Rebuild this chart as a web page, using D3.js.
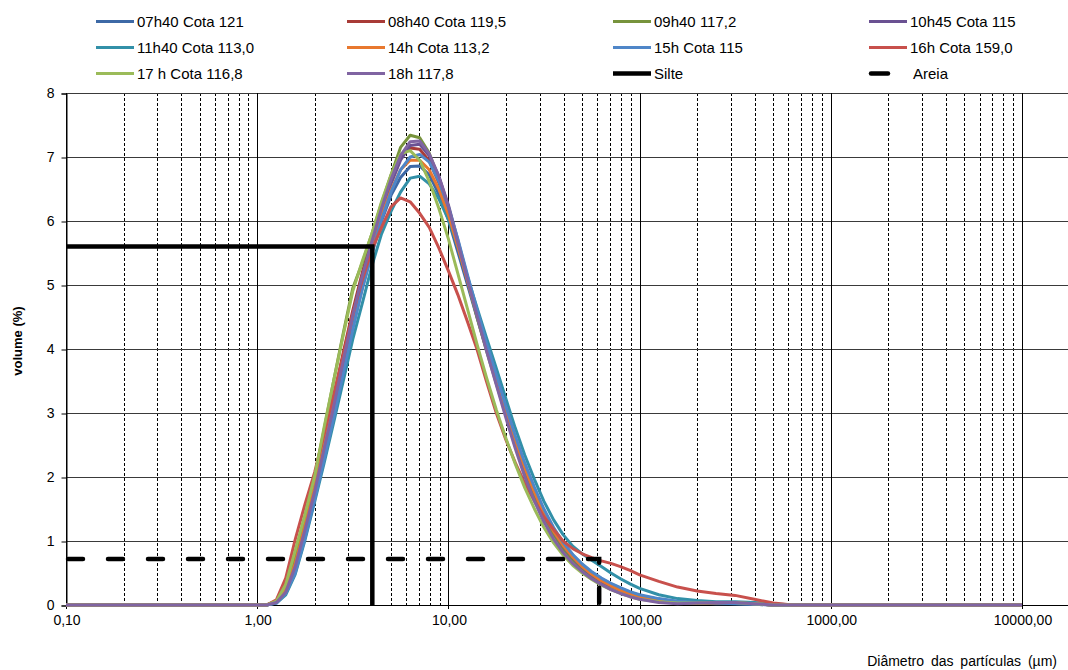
<!DOCTYPE html>
<html>
<head>
<meta charset="utf-8">
<script src="https://cdn.jsdelivr.net/npm/d3@7"></script>
<style>
  html, body { margin: 0; padding: 0; background: #fff; }
  svg { display: block; font-family: "Liberation Sans", Arial, sans-serif; }
</style>
</head>
<body>
<svg id="chart" width="1068" height="670"></svg>
<script>
// ---- DATA ----
const sizes = [0.1, 1.0, 1.12, 1.26, 1.41, 1.58, 1.78, 2.0, 2.24, 2.51, 2.82, 3.16, 3.55, 3.98, 4.47, 5.01, 5.62, 6.31, 7.08, 7.94, 8.91, 10, 11.2, 12.6, 14.1, 15.8, 17.8, 20, 22.4, 25.1, 28.2, 31.6, 35.5, 39.8, 44.7, 50.1, 56.2, 63.1, 70.8, 79.4, 89.1, 100, 126, 158, 200, 251, 316, 398, 501, 631, 1000, 10000];

const s0740 = [0,0,0,0.04,0.2,0.55,1.12,1.72,2.35,3.0,3.7,4.35,4.95,5.5,6.0,6.4,6.68,6.85,6.86,6.72,6.42,6.02,5.52,5.0,4.5,4.0,3.52,3.03,2.58,2.17,1.8,1.47,1.19,0.96,0.78,0.63,0.51,0.41,0.33,0.26,0.2,0.15,0.09,0.05,0.03,0.02,0.02,0.01,0,0,0,0];
const s0840 = [0,0,0,0.06,0.3,0.75,1.35,1.95,2.6,3.25,3.95,4.6,5.2,5.72,6.25,6.7,7.0,7.14,7.12,6.94,6.6,6.18,5.64,5.08,4.55,4.03,3.52,3.02,2.56,2.14,1.77,1.44,1.16,0.94,0.76,0.61,0.49,0.39,0.31,0.24,0.18,0.13,0.08,0.05,0.03,0.03,0.03,0.02,0,0,0,0];
const s0940 = [0,0,0,0.05,0.28,0.78,1.38,2.0,2.75,3.5,4.25,4.95,5.35,5.8,6.28,6.72,7.15,7.34,7.3,7.06,6.66,6.18,5.62,5.06,4.5,3.98,3.46,2.96,2.5,2.08,1.7,1.38,1.1,0.88,0.7,0.55,0.43,0.33,0.25,0.19,0.14,0.1,0.05,0.03,0.03,0.04,0.04,0.02,0,0,0,0];
const s1045 = [0,0,0,0.04,0.22,0.62,1.2,1.8,2.45,3.1,3.8,4.5,5.1,5.62,6.12,6.58,6.95,7.18,7.2,7.02,6.7,6.25,5.7,5.12,4.58,4.05,3.52,3.02,2.56,2.14,1.76,1.43,1.15,0.92,0.74,0.59,0.47,0.37,0.29,0.22,0.16,0.11,0.06,0.03,0.03,0.04,0.04,0.02,0,0,0,0];
const s1140 = [0,0,0,0.03,0.16,0.48,1.02,1.62,2.22,2.85,3.5,4.15,4.72,5.3,5.8,6.15,6.45,6.67,6.7,6.58,6.35,6.02,5.6,5.12,4.65,4.18,3.7,3.22,2.76,2.34,1.96,1.62,1.33,1.1,0.92,0.8,0.7,0.6,0.5,0.41,0.33,0.26,0.16,0.1,0.07,0.05,0.05,0.04,0.02,0,0,0];
const s1400 = [0,0,0,0.05,0.25,0.65,1.25,1.85,2.5,3.15,3.85,4.5,5.1,5.6,6.08,6.48,6.8,6.95,6.95,6.8,6.5,6.1,5.6,5.06,4.54,4.03,3.52,3.02,2.56,2.14,1.76,1.43,1.15,0.93,0.75,0.6,0.48,0.38,0.3,0.23,0.17,0.12,0.07,0.04,0.03,0.03,0.03,0.02,0,0,0,0];
const s1500 = [0,0,0,0.03,0.18,0.5,1.05,1.65,2.28,2.92,3.62,4.3,4.95,5.5,6.02,6.45,6.8,7.0,7.04,6.92,6.62,6.22,5.72,5.15,4.62,4.1,3.6,3.1,2.64,2.22,1.84,1.5,1.21,0.98,0.79,0.64,0.52,0.42,0.34,0.27,0.21,0.16,0.1,0.06,0.04,0.03,0.02,0.01,0,0,0,0];
const s1600 = [0,0,0,0.08,0.42,1.02,1.58,2.08,2.68,3.28,3.9,4.55,5.08,5.55,5.9,6.22,6.36,6.3,6.12,5.9,5.58,5.22,4.85,4.42,4.0,3.5,3.0,2.58,2.22,1.9,1.62,1.38,1.18,1.0,0.88,0.8,0.74,0.69,0.65,0.6,0.54,0.47,0.37,0.28,0.22,0.18,0.15,0.09,0.03,0,0,0];
const s1700 = [0,0,0,0.06,0.32,0.85,1.42,2.02,2.78,3.5,4.22,4.9,5.38,5.8,6.3,6.72,7.05,7.1,6.95,6.62,6.2,5.72,5.18,4.62,4.08,3.56,3.05,2.6,2.2,1.83,1.5,1.21,0.97,0.78,0.62,0.5,0.4,0.31,0.24,0.18,0.13,0.09,0.05,0.03,0.03,0.04,0.04,0.02,0,0,0,0];
const s1800 = [0,0,0,0.04,0.2,0.6,1.18,1.78,2.45,3.1,3.82,4.52,5.15,5.68,6.2,6.65,7.02,7.24,7.25,7.05,6.7,6.22,5.66,5.08,4.52,3.98,3.44,2.92,2.44,2.0,1.62,1.3,1.03,0.82,0.65,0.52,0.41,0.32,0.24,0.18,0.13,0.09,0.04,0.02,0.03,0.04,0.04,0.02,0,0,0,0];

const seriesNames = ["07h40 Cota 121", "08h40 Cota 119,5", "09h40 117,2", "10h45 Cota 115",
                     "11h40 Cota 113,0", "14h Cota 113,2", "15h Cota 115", "16h Cota 159,0",
                     "17 h Cota 116,8", "18h 117,8"];
const seriesValues = [s0740, s0840, s0940, s1045, s1140, s1400, s1500, s1600, s1700, s1800];
const seriesColors = ["#3D69A6", "#A83B37", "#77933C", "#6A5192", "#3290A8", "#E8782E",
                      "#4F86C8", "#C8504C", "#9BBB59", "#8064A2"];

const silteX = [0.1, 4, 4];
const silteY = [5.6, 5.6, 0];
const areiaX = [0.1, 60, 60];
const areiaY = [0.72, 0.72, 0];

const xTickValues = [0.1, 1, 10, 100, 1000, 10000];
const xTickLabels = ["0,10", "1,00", "10,00", "100,00", "1000,00", "10000,00"];
const yTickValues = [0, 1, 2, 3, 4, 5, 6, 7, 8];

// ---- CHART ----
const W = 1068, H = 670;
const pL = 66, pR = 1022, pT = 93, pB = 605;
const svg = d3.select("#chart");

const x = d3.scaleLog().domain([0.1, 10000]).range([pL, pR]);
const y = d3.scaleLinear().domain([0, 8]).range([pB, pT]);

// vertical minor gridlines (dashed)
const minor = [];
for (let e = -1; e < 4; e++) for (let k = 2; k <= 9; k++) minor.push(k * Math.pow(10, e));
svg.append("g").selectAll("line").data(minor).join("line")
  .attr("x1", d => Math.round(x(d)) + 0.5).attr("x2", d => Math.round(x(d)) + 0.5)
  .attr("y1", pT).attr("y2", pB)
  .attr("stroke", "#000").attr("stroke-width", 1).attr("stroke-dasharray", "3,2");

// horizontal gridlines
svg.append("g").selectAll("line").data(yTickValues.slice(1)).join("line")
  .attr("x1", pL).attr("x2", W)
  .attr("y1", d => Math.round(y(d)) + 0.5).attr("y2", d => Math.round(y(d)) + 0.5)
  .attr("stroke", "#3a3a3a").attr("stroke-width", 1);

// vertical major gridlines
svg.append("g").selectAll("line").data(xTickValues).join("line")
  .attr("x1", d => Math.round(x(d)) + 0.5).attr("x2", d => Math.round(x(d)) + 0.5)
  .attr("y1", pT).attr("y2", pB + 4)
  .attr("stroke", "#000").attr("stroke-width", 1);

// axes
const yAxis = d3.axisLeft(y).tickValues(yTickValues).tickSize(5).tickPadding(7).tickFormat(d3.format("d"));
const gy = svg.append("g").attr("transform", `translate(${pL + 0.5},0.5)`).call(yAxis);
gy.select(".domain").attr("stroke", "#000");
gy.selectAll("text").attr("font-size", 14).attr("fill", "#000").attr("font-family", "Liberation Sans, Arial, sans-serif");

const xAxis = d3.axisBottom(x).tickValues(xTickValues).tickSize(0).tickPadding(10)
  .tickFormat((d, i) => xTickLabels[i]);
const gx = svg.append("g").attr("transform", `translate(0.5,${pB + 0.5})`).call(xAxis);
gx.select(".domain").remove();
gx.selectAll("text").attr("font-size", 14).attr("fill", "#000").attr("font-family", "Liberation Sans, Arial, sans-serif");
svg.append("line").attr("x1", pL).attr("x2", W).attr("y1", pB + 0.5).attr("y2", pB + 0.5)
  .attr("stroke", "#000").attr("stroke-width", 1);

// series lines
const line = d3.line().x(d => x(d[0])).y(d => y(d[1]));
seriesValues.forEach((vals, i) => {
  const pts = sizes.map((s, j) => [s, vals[j] === undefined ? 0 : vals[j]]);
  svg.append("path").datum(pts)
    .attr("d", line)
    .attr("fill", "none")
    .attr("stroke", seriesColors[i])
    .attr("stroke-width", 3)
    .attr("stroke-linejoin", "round");
});

// Silte
svg.append("path").datum(silteX.map((d, i) => [d, silteY[i]]))
  .attr("d", line).attr("fill", "none").attr("stroke", "#000").attr("stroke-width", 4.5);

// Areia
svg.append("path").datum(areiaX.map((d, i) => [d, areiaY[i]]))
  .attr("d", line).attr("fill", "none").attr("stroke", "#000").attr("stroke-width", 4.5)
  .attr("stroke-dasharray", "15,25").attr("stroke-linecap", "round")
  .attr("transform", "translate(2,0)");

// axis titles
svg.append("text").attr("transform", `translate(22,${(pT + pB) / 2 - 8}) rotate(-90)`)
  .attr("text-anchor", "middle").attr("font-size", 13).attr("font-weight", "bold")
  .text("volume (%)");
svg.append("text").attr("x", 1057).attr("y", 666).attr("text-anchor", "end")
  .attr("font-size", 14).attr("word-spacing", 3)
  .text("Diâmetro das partículas (µm)");

// legend
const colX = [96, 347, 613, 869];
const rowY = [21.5, 47.5, 73.5];
const legendItems = seriesNames.map((n, i) => ({ name: n, color: seriesColors[i], w: 3, dash: null }));
legendItems.push({ name: "Silte", color: "#000", w: 4.5, dash: null });
legendItems.push({ name: "Areia", color: "#000", w: 4.5, dash: true });
const lg = svg.append("g");
legendItems.forEach((it, i) => {
  const cx = colX[i % 4], cy = rowY[Math.floor(i / 4)];
  if (it.dash) {
    lg.append("line").attr("x1", cx + 2).attr("x2", cx + 19).attr("y1", cy).attr("y2", cy)
      .attr("stroke", it.color).attr("stroke-width", it.w).attr("stroke-linecap", "round");
    lg.append("text").attr("x", cx + 44).attr("y", cy + 5.5).attr("font-size", 15).text(it.name);
  } else {
    lg.append("line").attr("x1", cx).attr("x2", cx + 38).attr("y1", cy).attr("y2", cy)
      .attr("stroke", it.color).attr("stroke-width", it.w);
    lg.append("text").attr("x", cx + 41).attr("y", cy + 5.5).attr("font-size", 15).text(it.name);
  }
});
</script>
</body>
</html>
